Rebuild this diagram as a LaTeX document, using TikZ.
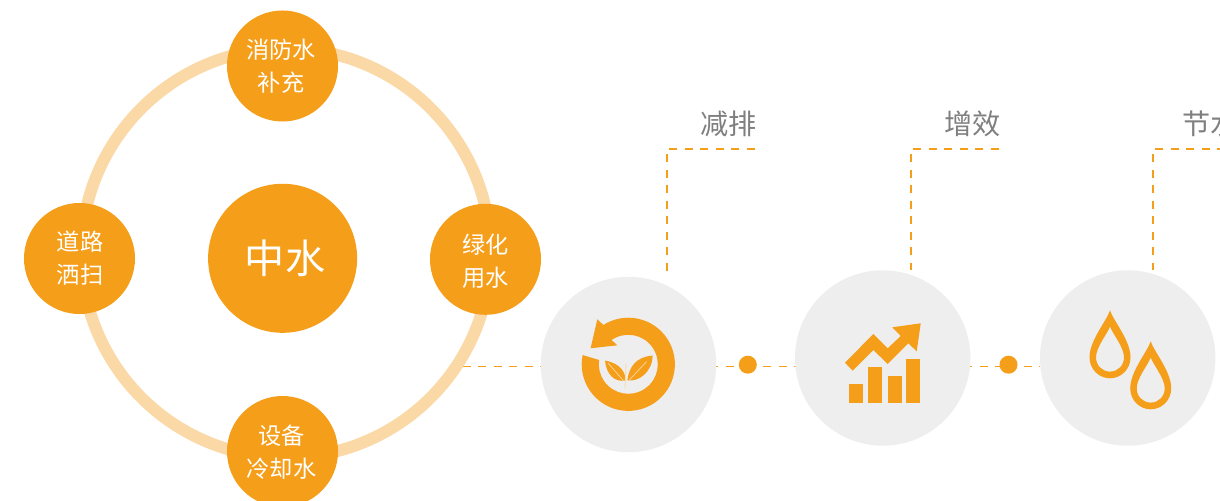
\documentclass[tikz,border=0pt]{standalone}
\usepackage{fontspec}
\setmainfont{Noto Sans CJK SC}
\usetikzlibrary{backgrounds}
\definecolor{waterorange}{HTML}{F59E1A}
\definecolor{ringorange}{HTML}{FAD9A6}
\definecolor{discgrey}{HTML}{EEEEEE}
\definecolor{labelgrey}{HTML}{7F7F7F}
\tikzset{
  hubnode/.style={circle, fill=waterorange, inner sep=0pt, minimum size=3.725cm},
  hubtext/.style={text=white, inner sep=0pt, font=\fontsize{28.5}{30}\selectfont},
  usenode/.style={circle, fill=waterorange, inner sep=0pt, minimum size=2.775cm},
  usetext/.style={text=white, inner sep=0pt, align=center, font=\fontsize{16.5}{23.5}\selectfont},
  discnode/.style={circle, fill=discgrey, inner sep=0pt, minimum size=4.385cm},
  dotnode/.style={circle, fill=waterorange, inner sep=0pt, minimum size=.45cm},
  tagnode/.style={text=labelgrey, inner sep=0pt, font=\fontsize{20}{24}\selectfont},
  dashline/.style={waterorange, line width=1pt, dash pattern=on 5.7pt off 5.3pt},
  upline/.style={dashline, dash phase=7.1pt},
  acrossline/.style={dashline, dash phase=9.4pt}
}
\begin{document}
\begin{tikzpicture}[x=.025cm, y=.025cm]
\useasboundingbox (0,0) rectangle (1220,500);
\clip (0,0) rectangle (1220,500);
% ring and what sits on it
\node[circle, draw=ringorange, line width=8.5pt, inner sep=0pt, minimum size=10.225cm] (ring) at (286,247) {};
\node[hubnode] (hub) at (282.6,241.7) {};
\node[hubtext] (hubtxt) at (285,241.7) {中水};
\node[usenode] (fire) at (282.5,434) {};
\node[usenode] (road) at (79.5,241.5) {};
\node[usenode] (green) at (485.5,240.7) {};
\node[usenode] (cool) at (282.5,48.5) {};
\node[usetext] (firetext) at (281,433.5) {消防水\\补充};
\node[usetext] (roadtext) at (80,242) {道路\\洒扫};
\node[usetext] (greentext) at (485.5,239) {绿化\\用水};
\node[usetext] (cooltext) at (281.5,48) {设备\\冷却水};
% benefits
\node[discnode] (reduce) at (628.5,135.5) {};
\node[discnode] (gain) at (882.7,142) {};
\node[discnode] (save) at (1127.7,142) {};
\node[dotnode] (dota) at (747.8,135.3) {};
\node[dotnode] (dotb) at (1008.5,135.3) {};
\node[tagnode, anchor=east] (reducetag) at (757,376) {减排};
\node[tagnode, anchor=east] (gaintag) at (1001,376) {增效};
\node[tagnode, anchor=west] (savetag) at (1182.5,376) {节水};
\coordinate (tap) at (462.7,133.7);
\coordinate (reduceend) at (755,351);
\coordinate (gainend) at (999,351);
\coordinate (saveend) at (1220,351);
\coordinate (reducebend) at (667,351);
\coordinate (gainbend) at (911,351);
\coordinate (savebend) at (1153,351);
% connectors
\begin{scope}[on background layer]
\draw[dashline] (tap) -- (tap -| dota);
\draw[dashline] (tap -| dota) -- (tap -| dotb);
\draw[dashline] (tap -| dotb) -- (tap -| save.west);
\draw[upline] (reducebend) -- (reduce.north -| reducebend);
\draw[acrossline] (reducebend) -- (reduceend);
\draw[upline] (gainbend) -- (gain.north -| gainbend);
\draw[acrossline] (gainbend) -- (gainend);
\draw[upline] (savebend) -- (save.north -| savebend);
\draw[acrossline] (savebend) -- (saveend);
\end{scope}
% loop and leaves
\begin{scope}[shift={(628.3,135.7)}]
\fill[waterorange] (168.5:46.6) arc (168.5:482.4:46.6) -- (-31,45) -- (-37.7,16) -- (-11,19) -- (124.5:29.5) arc (484.5:171.7:29.5) -- cycle;
\fill[waterorange] (-23.3,3.7) .. controls (-8,1) and (-2.5,-8) .. (-3,-16.3) .. controls (-14,-18) and (-22,-10) .. cycle;
\fill[waterorange] (24.3,8.7) .. controls (8,7.5) and (1,-2) .. (-1,-16) .. controls (10,-18) and (24,-8) .. cycle;
\draw[ringorange, line width=.5pt] (-20,1) -- (-5,-16.3);
\draw[ringorange, line width=.5pt] (18.3,2.7) -- (1,-15.7);
\draw[ringorange, line width=.6pt] (-2.3,1) -- (-3.3,-24);
\end{scope}
% bars and arrow
\foreach \barx/\bartop in {849/116, 868/133, 888/124, 906/141}
  \fill[waterorange] (\barx,97) rectangle (\barx+14,\bartop);
\fill[waterorange] (845,137.3) -- (873.3,166) -- (887.7,151.7) -- (900.7,164) -- (892.3,172.7) -- (920.7,176.7) -- (916.7,148.7) -- (908.3,156.7) -- (887.7,136) -- (873.3,150) -- (852.7,129.3) -- cycle;
% two drops
\foreach \dropx/\dropy in {1110/121.7, 1150.7/90.7}
  \fill[waterorange, even odd rule, shift={(\dropx,\dropy)}]
    (0,68) .. controls (-3,58) and (-20.5,38) .. (-20.5,21) .. controls (-20.5,9) and (-11,0) .. (0,0)
    .. controls (11,0) and (20.5,9) .. (20.5,21) .. controls (20.5,38) and (3,58) .. (0,68) -- cycle
    (0,51.7) .. controls (-3,44) and (-14,31) .. (-14,21) .. controls (-14,13) and (-8,6.7) .. (0,6.7)
    .. controls (8,6.7) and (14,13) .. (14,21) .. controls (14,31) and (3,44) .. (0,51.7) -- cycle;
\end{tikzpicture}
\end{document}
